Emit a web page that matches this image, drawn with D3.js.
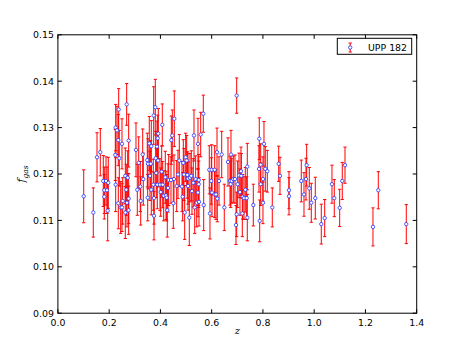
<!DOCTYPE html>
<html><head><meta charset="utf-8">
<script src="https://cdn.jsdelivr.net/npm/d3@7"></script>
<style>body{margin:0;background:#fff}svg{display:block}</style>
</head><body>
<script>
const zVals = [0.1007,0.1381,0.1526,0.1654,0.1771,0.1810,0.1810,0.1877,0.1916,0.1943,0.1966,0.2255,0.2306,0.2240,0.2255,0.2357,0.2372,0.2396,0.2357,0.2450,0.2501,0.2501,0.2528,0.2684,0.2762,0.2630,0.2723,0.2669,0.2696,0.2630,0.2762,0.2762,0.3047,0.3098,0.3153,
0.3215,0.3231,0.3309,0.3332,0.3488,0.3504,0.3515,0.3566,0.3593,0.3621,0.3644,0.3644,0.3750,0.3750,0.3722,0.3738,0.3800,0.3816,0.3839,0.3867,0.3878,0.3894,0.3917,0.3906,0.3984,0.4011,0.4050,0.4073,0.4089,0.4128,0.4190,0.4218,0.4245,0.4268,0.4296,0.4323,0.4413,0.4425,0.4464,0.4503,0.4530,0.4542,0.4635,0.4686,0.4737,0.4842,0.4893,0.4920,0.4869,0.4947,0.4986,0.5025,0.5049,0.5076,0.5076,0.5127,0.5154,0.5205,0.5232,0.5283,0.5310,0.5338,0.5376,0.5416,0.5466,0.5466,0.5494,
0.5673,0.5572,0.5494,0.5505,0.5689,0.5907,0.5934,0.5985,0.6001,0.6013,0.6118,0.6118,0.6169,0.6208,0.6219,0.6286,0.6391,0.6492,0.6637,0.6715,0.6742,0.6754,0.6781,0.6844,0.6910,0.6949,0.6976,0.6976,0.7015,0.7066,0.7105,0.7144,0.7156,0.7195,0.7210,0.7261,0.7312,0.7366,0.7390,0.7390,0.7624,
0.7858,0.8041,0.7846,0.7913,0.8092,0.8170,0.8002,0.7913,0.7874,0.8002,0.8365,0.8615,0.8666,0.9017,0.9017,0.9497,0.9602,0.9680,0.9707,0.9809,0.9887,1.0043,1.0277,1.0410,
1.0694,1.0784,1.0995,1.1096,1.1202,1.2294,1.2501,1.3593];
const fGas = [0.1152,0.1117,0.1236,0.1247,0.1185,0.1165,0.1151,0.1185,0.1165,0.1121,0.1181,0.1300,0.1294,0.1241,0.1177,0.1273,0.1339,0.1234,0.1137,0.1128,0.1128,0.1265,0.1142,0.1350,0.1272,0.1196,0.1192,0.1166,0.1138,0.1117,0.1147,0.1122,0.1252,0.1166,0.1224,
0.1173,0.1142,0.1242,0.1189,0.1230,0.1149,0.1222,0.1266,0.1196,0.1222,0.1260,0.1166,0.1110,0.1148,0.1177,0.1326,0.1344,0.1234,0.1202,0.1259,0.1177,0.1277,0.1287,0.1229,0.1177,0.1161,0.1205,0.1306,0.1177,0.1153,0.1193,0.1154,0.1149,0.1122,0.1170,0.1187,0.1187,0.1273,0.1283,0.1137,0.1189,0.1319,0.1174,0.1199,0.1229,0.1173,0.1224,0.1199,0.1151,0.1117,0.1236,0.1229,0.1198,0.1190,0.1174,0.1106,0.1192,0.1196,0.1163,0.1181,0.1283,0.1128,0.1189,0.1138,0.1265,0.1160,0.1187,
0.1330,0.1285,0.1178,0.1140,0.1133,0.1209,0.1115,0.1185,0.1209,0.1160,0.1209,0.1156,0.1156,0.1247,0.1147,0.1185,0.1242,0.1128,0.1226,0.1185,0.1178,0.1242,0.1185,0.1189,0.1189,0.1090,0.1369,0.1113,0.1178,0.1197,0.1161,0.1206,0.1196,0.1115,0.1151,0.1148,0.1166,0.1148,0.1216,0.1106,0.1133,
0.1276,0.1265,0.1211,0.1220,0.1211,0.1206,0.1189,0.1178,0.1099,0.1138,0.1128,0.1222,0.1196,0.1165,0.1152,0.1185,0.1156,0.1189,0.1219,0.1169,0.1138,0.1148,0.1092,0.1105,
0.1178,0.1148,0.1127,0.1185,0.1219,0.1086,0.1165,0.1092];
const fErr = [0.0057,0.0053,0.0053,0.0051,0.0055,0.0050,0.0048,0.0052,0.0050,0.0065,0.0055,0.0050,0.0052,0.0055,0.0058,0.0055,0.0045,0.0060,0.0055,0.0056,0.0052,0.0054,0.0050,0.0045,0.0057,0.0060,0.0058,0.0055,0.0052,0.0056,0.0054,0.0052,0.0058,0.0055,0.0056,
0.0054,0.0052,0.0055,0.0056,0.0058,0.0050,0.0054,0.0058,0.0053,0.0050,0.0055,0.0054,0.0052,0.0056,0.0055,0.0062,0.0060,0.0058,0.0053,0.0055,0.0052,0.0050,0.0054,0.0057,0.0056,0.0052,0.0055,0.0045,0.0050,0.0054,0.0056,0.0052,0.0050,0.0058,0.0052,0.0055,0.0050,0.0052,0.0055,0.0054,0.0052,0.0060,0.0055,0.0052,0.0056,0.0054,0.0050,0.0056,0.0052,0.0058,0.0052,0.0054,0.0050,0.0055,0.0052,0.0060,0.0052,0.0054,0.0050,0.0052,0.0055,0.0056,0.0050,0.0052,0.0055,0.0052,0.0055,
0.0040,0.0048,0.0050,0.0052,0.0055,0.0052,0.0055,0.0050,0.0054,0.0052,0.0052,0.0050,0.0054,0.0052,0.0050,0.0052,0.0050,0.0050,0.0052,0.0052,0.0050,0.0052,0.0048,0.0050,0.0052,0.0042,0.0038,0.0048,0.0050,0.0048,0.0050,0.0052,0.0048,0.0050,0.0048,0.0046,0.0048,0.0046,0.0050,0.0050,0.0045,
0.0045,0.0048,0.0050,0.0045,0.0048,0.0045,0.0048,0.0046,0.0045,0.0045,0.0042,0.0038,0.0040,0.0040,0.0040,0.0045,0.0047,0.0045,0.0045,0.0045,0.0042,0.0045,0.0043,0.0040,
0.0041,0.0040,0.0040,0.0040,0.0039,0.0041,0.0040,0.0042];
const xTicks = [0.0,0.2,0.4,0.6,0.8,1.0,1.2,1.4];
const yTicks = [0.09,0.10,0.11,0.12,0.13,0.14,0.15];
const legendLabel = "UPP 182";

const W = 463, H = 348;
const m = {l: 57.9, r: 463-416.7, t: 34.8, b: 348-313.2};
const svg = d3.select("body").append("svg").attr("width", W).attr("height", H);
const x = d3.scaleLinear().domain([0,1.4]).range([m.l, W-m.r]);
const y = d3.scaleLinear().domain([0.09,0.15]).range([H-m.b, m.t]);

const data = zVals.map((z,i)=>({z, f:fGas[i], e:fErr[i]}));
const g = svg.append("g");
const cap = 1.6;
const eb = g.selectAll("g.eb").data(data).enter().append("g").attr("class","eb");
eb.append("line").attr("x1",d=>x(d.z)).attr("x2",d=>x(d.z))
  .attr("y1",d=>y(d.f-d.e)).attr("y2",d=>y(d.f+d.e)).attr("stroke","red").attr("stroke-width",1);
eb.append("line").attr("x1",d=>x(d.z)-cap).attr("x2",d=>x(d.z)+cap)
  .attr("y1",d=>y(d.f+d.e)).attr("y2",d=>y(d.f+d.e)).attr("stroke","red").attr("stroke-width",1);
eb.append("line").attr("x1",d=>x(d.z)-cap).attr("x2",d=>x(d.z)+cap)
  .attr("y1",d=>y(d.f-d.e)).attr("y2",d=>y(d.f-d.e)).attr("stroke","red").attr("stroke-width",1);
g.selectAll("circle.pt").data(data).enter().append("circle").attr("class","pt")
  .attr("cx",d=>x(d.z)).attr("cy",d=>y(d.f)).attr("r",1.7)
  .attr("fill","white").attr("stroke","#2233ff").attr("stroke-width",0.8);

// frame
svg.append("rect").attr("x",x(0)).attr("y",y(0.15)).attr("width",x(1.4)-x(0)).attr("height",y(0.09)-y(0.15))
  .attr("fill","none").attr("stroke","black").attr("stroke-width",1);

const fontF = "'DejaVu Sans', sans-serif";
const tl = 4;
const ax = svg.append("g").attr("font-family",fontF).attr("font-size","9.4px").attr("fill","black");
xTicks.forEach(t=>{
  ax.append("line").attr("x1",x(t)).attr("x2",x(t)).attr("y1",y(0.09)).attr("y2",y(0.09)-tl).attr("stroke","black");
  ax.append("line").attr("x1",x(t)).attr("x2",x(t)).attr("y1",y(0.15)).attr("y2",y(0.15)+tl).attr("stroke","black");
  ax.append("text").attr("x",x(t)).attr("y",y(0.09)+12.5).attr("text-anchor","middle").text(d3.format(".1f")(t));
});
yTicks.forEach(t=>{
  ax.append("line").attr("x1",x(0)).attr("x2",x(0)+tl).attr("y1",y(t)).attr("y2",y(t)).attr("stroke","black");
  ax.append("line").attr("x1",x(1.4)).attr("x2",x(1.4)-tl).attr("y1",y(t)).attr("y2",y(t)).attr("stroke","black");
  ax.append("text").attr("x",x(0)-4).attr("y",y(t)+3.4).attr("text-anchor","end").text(d3.format(".2f")(t));
});

// axis labels
svg.append("text").attr("x",(x(0)+x(1.4))/2).attr("y",334).attr("text-anchor","middle")
  .attr("font-family","'DejaVu Serif', serif").attr("font-style","italic").attr("font-size","10px").text("z");
const yl = svg.append("text").attr("transform","translate(25,174) rotate(-90)").attr("text-anchor","middle")
  .attr("font-family","'DejaVu Serif', serif").attr("font-style","italic").attr("font-size","10.5px");
yl.append("tspan").text("f");
yl.append("tspan").attr("font-size","7.5px").attr("dy","2.5").text("gas");

// legend
const lg = svg.append("g");
lg.append("rect").attr("x",337.3).attr("y",38.3).attr("width",74.4).attr("height",16).attr("fill","white").attr("stroke","black").attr("stroke-width",1);
const lx = 350.2, lyc = 47.5;
lg.append("line").attr("x1",lx).attr("x2",lx).attr("y1",lyc-4.5).attr("y2",lyc+4.5).attr("stroke","red");
lg.append("line").attr("x1",lx-cap).attr("x2",lx+cap).attr("y1",lyc-4.5).attr("y2",lyc-4.5).attr("stroke","red");
lg.append("line").attr("x1",lx-cap).attr("x2",lx+cap).attr("y1",lyc+4.5).attr("y2",lyc+4.5).attr("stroke","red");
lg.append("circle").attr("cx",lx).attr("cy",lyc).attr("r",1.7).attr("fill","white").attr("stroke","#2233ff").attr("stroke-width",0.8);
lg.append("text").attr("x",368).attr("y",50.8).attr("font-family",fontF).attr("font-size","9.4px").text(legendLabel);
</script>
</body></html>
